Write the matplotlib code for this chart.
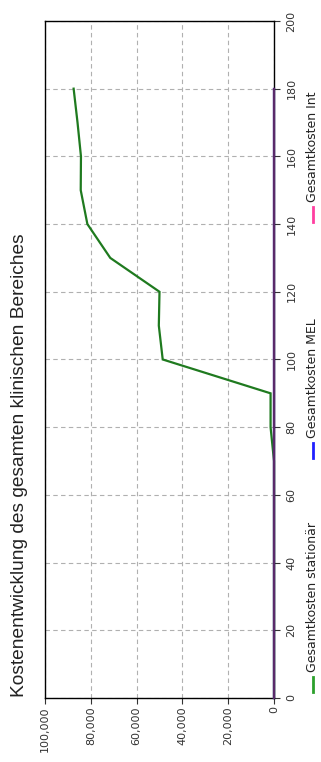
import matplotlib
matplotlib.use("Agg")
import matplotlib.pyplot as plt
from matplotlib.lines import Line2D

# time steps (drawn on the vertical axis, chart is rotated)
zeit = [0, 10, 20, 30, 40, 50, 60, 70, 80, 90, 100, 110, 120, 130, 140, 150, 160, 170, 180]
kosten_stationaer = [0, 0, 0, 0, 0, 0, 0, 0, 1500, 1500, 48600, 50300, 50000, 71500,
                     81500, 84400, 84300, 85800, 87500]
kosten_mel = [0] * len(zeit)
kosten_int = [0] * len(zeit)

serien = ["Gesamtkosten stationär", "Gesamtkosten MEL", "Gesamtkosten Int"]
linien_farben = ["#1f7a1f", "#2a2ad0", "#5a2a6a"]
legenden_farben = ["#2ca02c", "#2020ff", "#ff3fa0"]

kosten_ticks = [0, 20000, 40000, 60000, 80000, 100000]
zeit_ticks = list(range(0, 201, 20))

fig = plt.figure(figsize=(3.21, 7.62), dpi=100)
ax = fig.add_axes([0.1402, 0.0840, 0.7134, 0.8885])

for werte, farbe in zip([kosten_stationaer, kosten_mel, kosten_int], linien_farben):
    ax.plot(werte, zeit, color=farbe, lw=1.6, solid_joinstyle="miter", zorder=3, clip_on=False)

ax.set_xlim(100000, 0)
ax.set_ylim(0, 200)
ax.set_xticks(kosten_ticks)
ax.set_xticklabels([f"{v:,}" for v in kosten_ticks], rotation=90, fontsize=8, color="#333333")
ax.set_yticks(zeit_ticks)
ax.set_yticklabels([str(v) for v in zeit_ticks], rotation=90, fontsize=8, color="#333333",
                   va="center")
ax.yaxis.tick_right()
ax.tick_params(axis="x", length=4, width=0.8, color="#333333", pad=2)
ax.tick_params(axis="y", length=4, width=0.8, color="#333333", pad=5)
ax.grid(True, color="#b0b0b0", linestyle=(0, (4, 3)), lw=0.8)
for s in ax.spines.values():
    s.set_color("black")
    s.set_linewidth(1.0)

# title, left aligned to the (rotated) axes start
fig.text(0.062, 0.0850, "Kostenentwicklung des gesamten klinischen Bereiches",
         rotation=90, ha="center", va="bottom", fontsize=13.8, family="Liberation Sans",
         color="#222222")

# legend, written along the vertical direction
legend_start = [0.0919, 0.3990, 0.7087]
for name, farbe, y0 in zip(serien, legenden_farben, legend_start):
    fig.add_artist(Line2D([0.975, 0.975], [y0, y0 + 0.020], transform=fig.transFigure,
                          color=farbe, lw=2))
    fig.text(0.975, y0 + 0.026, name, rotation=90, ha="center", va="bottom",
             fontsize=9, color="#222222")

fig.savefig("out.png", dpi=100)
